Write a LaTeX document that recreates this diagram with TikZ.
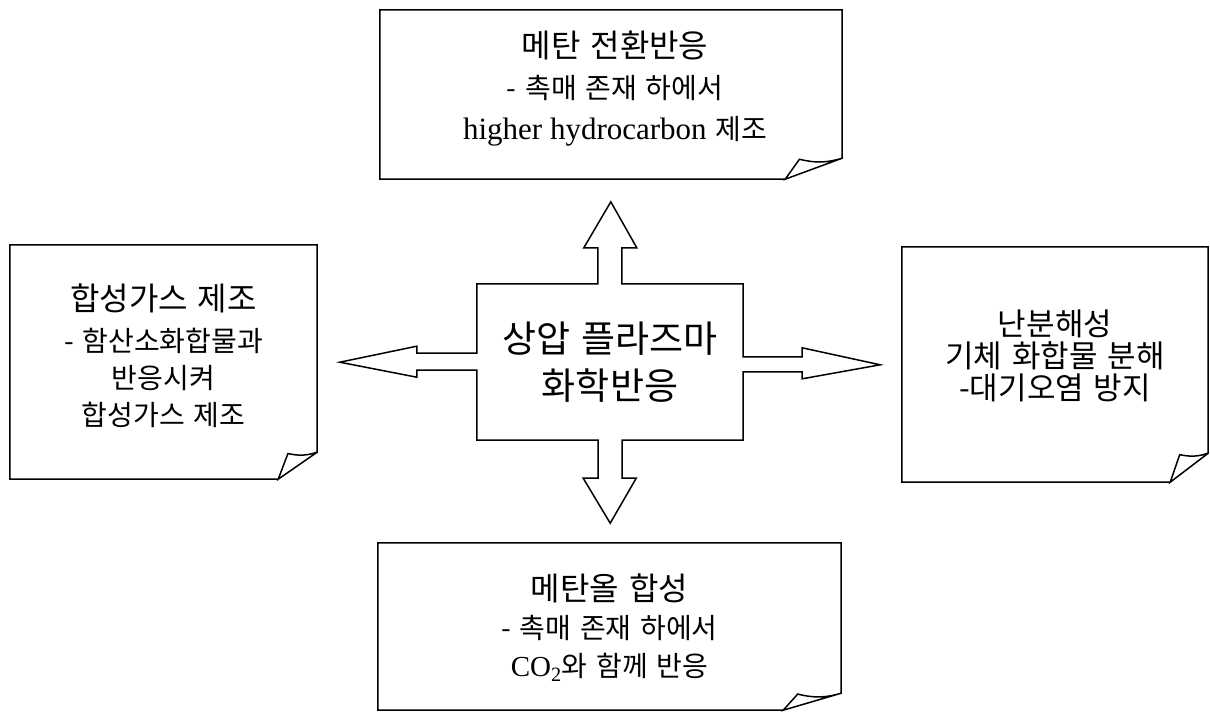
\documentclass[tikz,border=0pt]{standalone}
\usepackage{fontspec}
\setmainfont{Liberation Serif}
\newfontfamily\hangul[WordSpace=1.4]{Noto Sans CJK KR}
\usetikzlibrary{calc}
\usetikzlibrary{positioning}
\tikzstyle{outline} = [line width=1.5pt, line join=miter]
\tikzstyle{notebox} = [inner sep=0pt, draw=none]
\tikzstyle{notetext} = [inner sep=0pt, align=center]

% note with a curled lower right corner: node, fold width, fold height
\newcommand{\curlnote}[3]{%
	\coordinate (#1-a) at ($(#1.south east)+(0,-#3)$);
	\coordinate (#1-b) at ($(#1.south east)+(-#2,0)$);
	\coordinate (#1-t) at ($(#1.south east)+(-0.75*#2,-0.95*#3)$);
	\draw[outline] (#1-b) -- (#1.south west) -- (#1.north west) -- (#1.north east) -- (#1-a) to[bend left=15] (#1-t) -- (#1-b) -- (#1-a);
}

\begin{document}
\begin{tikzpicture}[x=1pt,y=-1pt]
	\useasboundingbox (0,0) rectangle (1210,712);
	\node[notebox,minimum width=462,minimum height=169] (conv) at (611,94.5) {};
	\node[notebox,minimum width=307,minimum height=234] (syngas) at (163.5,362) {};
	\node[notebox,minimum width=306,minimum height=235] (decomp) at (1055,364.5) {};
	\node[notebox,minimum width=463,minimum height=167] (methanol) at (609.5,626.5) {};
	\curlnote{conv}{57}{21}
	\curlnote{syngas}{39}{27}
	\curlnote{decomp}{38}{29}
	\curlnote{methanol}{58}{17}
	\node[notetext,below=21pt of conv.north,xshift=4pt,font={\hangul\fontsize{28}{41}\selectfont}] (conv-text)
		{{\fontsize{32}{32}\selectfont 메탄 전환반응}\\- 촉매 존재 하에서\\{\rmfamily\fontsize{31}{31}\selectfont higher hydrocarbon} 제조};
	\node[notetext,below=39pt of syngas.north,font={\hangul\fontsize{28}{37}\selectfont}] (syngas-text)
		{{\fontsize{32}{32}\selectfont 합성가스 제조}\\[4pt]- 함산소화합물과\\반응시켜\\합성가스 제조};
	\node[notetext,below=63pt of decomp.north,font={\hangul\fontsize{31}{32}\selectfont}] (decomp-text)
		{난분해성\\기체 화합물 분해\\-대기오염 방지};
	\node[notetext,below=31pt of methanol.north,font={\hangul\fontsize{28}{38}\selectfont}] (methanol-text)
		{{\fontsize{32}{32}\selectfont 메탄올 합성}\\- 촉매 존재 하에서\\{\rmfamily\fontsize{29}{29}\selectfont CO\textsubscript{2}}와 함께 반응};
	% center block with four arrows
	\node[notetext,minimum width=266,minimum height=156,font={\hangul\fontsize{37}{47}\selectfont}] (core) at (610,362) {상압 플라즈마\\화학반응};
	\draw[outline] (core.north west) -- ++(121,0) -- ++(0,-36) -- ++(-14,0) -- ++(27,-46) -- ++(26,46) -- ++(-15,0) -- ++(0,36)
		-- (core.north east) -- ++(0,73) -- ++(59,0) -- ++(0,-9) -- ++(78,17) -- ++(-78,14) -- ++(0,-7) -- ++(-59,0)
		-- (core.south east) -- ++(-121,0) -- ++(0,38) -- ++(14,0) -- ++(-26,45) -- ++(-27,-45) -- ++(15,0) -- ++(0,-38)
		-- (core.south west) -- ++(0,-70) -- ++(-60,0) -- ++(0,7) -- ++(-77,-15) -- ++(77,-16) -- ++(0,7) -- ++(60,0)
		-- cycle;
\end{tikzpicture}
\end{document}
